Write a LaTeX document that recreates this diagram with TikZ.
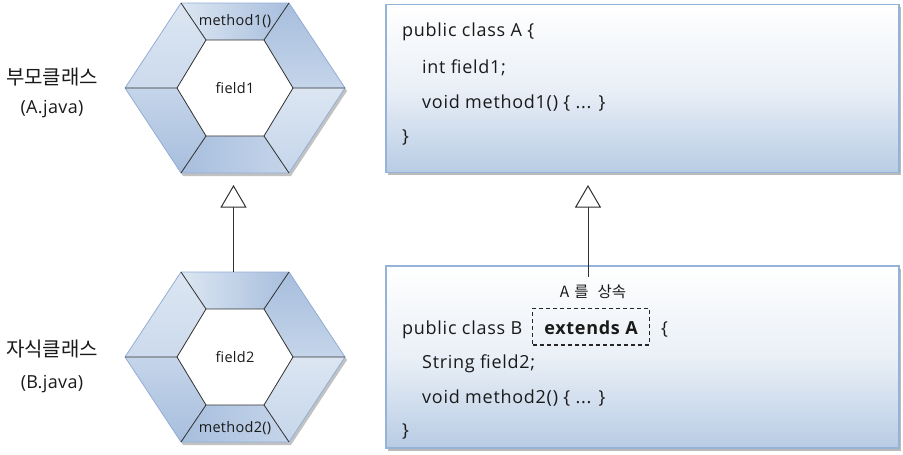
\documentclass[tikz,border=0pt]{standalone}
\usepackage{fontspec}
\setmainfont{Open Sans}
\newfontfamily\codefont[LetterSpace=4]{Open Sans}
\newfontfamily\smallfont[LetterSpace=2]{Open Sans}
\newfontfamily\kr{Noto Sans CJK KR}
\usetikzlibrary{arrows.meta,shadows}
\definecolor{hexL}{HTML}{DCE6F2}
\definecolor{hexM}{HTML}{C5D5EA}
\definecolor{hexD}{HTML}{A7BEDD}
\definecolor{hexEdge}{HTML}{93AED4}
\definecolor{lineC}{HTML}{303030}
\definecolor{boxD}{HTML}{B8CCE4}
\definecolor{boxEdge}{HTML}{95B3D7}
\definecolor{txt}{HTML}{1A1A1A}
\tikzset{
  codetxt/.style={anchor=base west, inner sep=0pt, text=txt, font=\codefont\fontsize{18}{21}\selectfont},
  hextxt/.style={anchor=base, inner sep=0pt, text=txt, font=\smallfont\fontsize{14.5}{17}\selectfont},
  lbl/.style={anchor=base, inner sep=0pt, text=txt, font=\smallfont\fontsize{18}{21}\selectfont},
  klbl/.style={anchor=base, inner sep=0pt, text=txt, font=\kr\fontsize{20}{24}\selectfont},
  codebox/.style={draw=boxEdge, line width=1.5pt, top color=white, bottom color=boxD, middle color=boxD!30!white,
     minimum width=513pt, inner sep=0pt, drop shadow={shadow xshift=2pt, shadow yshift=-3pt, fill=black!45, opacity=.6}},
  inherit/.style={draw=lineC, line width=1pt, -{Triangle[open, length=22.5pt, width=26pt, line width=1pt, fill=white]}},
  ringline/.style={draw=lineC, line width=0.8pt},
}
\newcommand\hexring[1]{%
  \begin{scope}[shift={(235,#1)}]
    \fill[black!40, opacity=.6] (-52,-82) -- (56,-82) -- (112,3) -- (56,88) -- (-52,88) -- (-107,3) -- cycle;
    \shade[left color=hexL, right color=hexD] (-54,-85) -- (54,-85) -- (29,-48) -- (-29,-48) -- cycle;
    \shade[top color=hexD, bottom color=hexM] (54,-85) -- (110,0) -- (58,0) -- (29,-48) -- cycle;
    \shade[top color=hexL, bottom color=hexM] (110,0) -- (54,85) -- (29,48) -- (58,0) -- cycle;
    \shade[left color=hexD, right color=hexM] (54,85) -- (-54,85) -- (-29,48) -- (29,48) -- cycle;
    \shade[top color=hexM, bottom color=hexD] (-54,85) -- (-110,0) -- (-58,0) -- (-29,48) -- cycle;
    \shade[top color=hexL, bottom color=hexM!70!hexL] (-110,0) -- (-54,-85) -- (-29,-48) -- (-58,0) -- cycle;
    \draw[hexEdge, line width=0.8pt] (-54,-85) -- (54,-85) -- (110,0) -- (54,85) -- (-54,85) -- (-110,0) -- cycle;
    \fill[white] (-29,-48) -- (29,-48) -- (58,0) -- (29,48) -- (-29,48) -- (-58,0) -- cycle;
    \draw[ringline] (-29,-48) -- (29,-48) -- (58,0) -- (29,48) -- (-29,48) -- (-58,0) -- cycle;
    \draw[ringline] (-54,-85) -- (-29,-48) (54,-85) -- (29,-48) (110,0) -- (58,0)
                    (54,85) -- (29,48) (-54,85) -- (-29,48) (-110,0) -- (-58,0);
  \end{scope}}
\begin{document}
\begin{tikzpicture}[x=1pt,y=-1pt]
\useasboundingbox (0,0) rectangle (903,455);

% hexagons
\hexring{88}
\hexring{357}
\node[hextxt] (m1) at (235,25) {method1()};
\node[hextxt] (f1) at (235,93) {field1};
\node[hextxt] (f2) at (235,362) {field2};
\node[hextxt] (m2) at (235,432) {method2()};

% labels
\node[klbl] (lblA) at (52,84) {부모클래스};
\node[lbl] (javaA) at (52,113) {(A.java)};
\node[klbl] (lblB) at (52,356) {자식클래스};
\node[lbl] (javaB) at (52,388) {(B.java)};

% boxes
\node[codebox, minimum height=168pt, anchor=north west] (boxA) at (385,3.5) {};
\node[codebox, minimum height=182pt, anchor=north west] (boxB) at (385,265) {};

\node[codetxt] (a1) at (402,36) {public class A \{};
\node[codetxt] (a2) at (422,73) {int field1;};
\node[codetxt] (a3) at (422,108) {void method1() \{ ... \}};
\node[codetxt] (a4) at (402,142) {\}};

\node[codetxt] (b1) at (402,334) {public class B};
\node[draw=black!85, dashed, line width=1.1pt, dash pattern=on 4pt off 3pt, minimum width=116.5pt, minimum height=36.5pt, inner sep=0pt] (ext) at (591,326.7) {};
\node[codetxt, anchor=base, font=\codefont\fontsize{18}{21}\selectfont\bfseries] (extT) at (591,334) {extends A};
\node[codetxt] (b1b) at (661,334) {\{};
\node[codetxt] (b2) at (422,368) {String field2;};
\node[codetxt] (b3) at (422,403) {void method2() \{ ... \}};
\node[codetxt] (b4) at (402,436) {\}};
\node[anchor=base, inner sep=0pt, text=txt, font=\kr\fontsize{15.5}{18}\selectfont] (sang) at (593,297) {A\hspace{5pt}를\hspace{9pt}상속};

% inheritance arrows
\coordinate (hexBtop) at (233.5,272);
\coordinate (hexAtip) at (233.5,185);
\coordinate (boxBtop) at (588,277);
\coordinate (boxAtip) at (588,185);
\draw[inherit] (hexBtop) -- (hexAtip);
\draw[inherit] (boxBtop) -- (boxAtip);
\end{tikzpicture}
\end{document}
